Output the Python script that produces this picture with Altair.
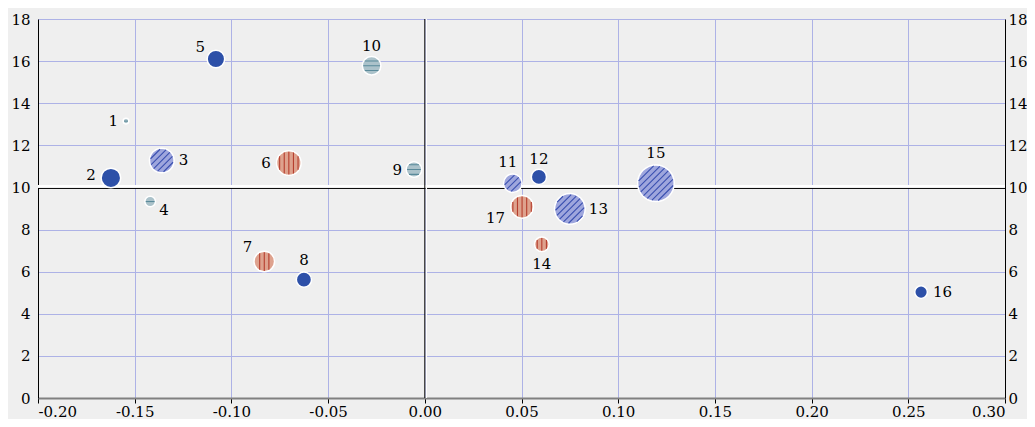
import math
import altair as alt
import pandas as pd

# ---- data ----
labels = ["1", "2", "3", "4", "5", "6", "7", "8", "9", "10",
          "11", "12", "13", "14", "15", "16", "17"]
x_vals = [-0.1545, -0.1623, -0.1360, -0.1420, -0.1080, -0.0703, -0.0830, -0.0625, -0.0056, -0.0275,
          0.0455, 0.0590, 0.0750, 0.0605, 0.1195, 0.2566, 0.0503]
y_vals = [13.15, 10.45, 11.28, 9.33, 16.10, 11.16, 6.48, 5.62, 10.85, 15.78,
          10.20, 10.50, 8.98, 7.30, 10.20, 5.03, 9.08]
weights = [8, 96, 151, 28, 77, 151, 106, 58, 61, 86,
           86, 58, 234, 53, 335, 40, 128]
groups = ["C", "A", "B", "C", "A", "D", "D", "A", "C", "C",
          "B", "A", "B", "D", "B", "A", "D"]

x_cross = 0.0
y_cross = 10.0
x_ticks = [-0.20, -0.15, -0.10, -0.05, 0.0, 0.05, 0.10, 0.15, 0.20, 0.25, 0.30]
y_ticks = [0, 2, 4, 6, 8, 10, 12, 14, 16, 18]

# ---- styles ----
FONT = "DejaVu Serif"
FS = 15
BG = "#efefef"
GRID = "#adb2e6"
group_domain = ["A", "B", "C", "D"]
fill_colors = ["#2d50a8", "#9ea6dd", "#abc2ca", "#dea28e"]
line_colors = ["#2d50a8", "#3a50b0", "#5a8a9a", "#b63e2e"]
pattern_kind = {"B": "diag", "C": "horiz", "D": "vert"}
spacing_px = {"diag": 4.6, "horiz": 4.8, "vert": 4.6}

label_pos = {
    "1": (-8, 0, "right"), "2": (-15, -3, "right"), "3": (17, 0, "left"),
    "4": (9, 8, "left"), "5": (-11, -12, "right"), "6": (-18, 0, "right"),
    "7": (-12, -15, "right"), "8": (0, -20, "center"), "9": (-12, 0, "right"),
    "10": (0, -20, "center"), "11": (-5, -21, "center"), "12": (0, -18, "center"),
    "13": (19, 0, "left"), "14": (0, 20, "center"), "15": (0, -30, "center"),
    "16": (12, 0, "left"), "17": (-17, 11, "right"),
}

wmax = max(weights)
size_scale = alt.Scale(type="linear", domain=[0, wmax], range=[0, 4 * wmax], zero=True)


def pattern_path(kind, w):
    """Chord lines inside a unit circle, with a constant pixel spacing."""
    r = math.sqrt(w)  # circle radius in px for size = 4 * w
    rho = max(0.2, 1 - 0.9 / r)
    s = spacing_px[kind] / r
    parts = []
    n = int(rho / s) + 1
    for k in range(-n, n + 1):
        d = k * s
        if abs(d) >= rho * 0.97:
            continue
        h = math.sqrt(rho * rho - d * d)
        if kind == "horiz":
            p1, p2 = (-h, d), (h, d)
        elif kind == "vert":
            p1, p2 = (d, -h), (d, h)
        else:
            c = 1 / math.sqrt(2)
            nx, ny = c, c
            tx, ty = c, -c
            p1 = (d * nx - h * tx, d * ny - h * ty)
            p2 = (d * nx + h * tx, d * ny + h * ty)
        parts.append("M%.3f,%.3fL%.3f,%.3f" % (p1[0], p1[1], p2[0], p2[1]))
    return "".join(parts) if parts else "M0,0L0,0"


df = pd.DataFrame({"label": labels, "x": x_vals, "y": y_vals, "w": weights, "group": groups})
pat_df = df[df["group"] != "A"].copy()
pat_paths = [pattern_path(pattern_kind[g], w) for g, w in zip(pat_df["group"], pat_df["w"])]

xs = alt.Scale(domain=[x_ticks[0], x_ticks[-1]], nice=False, zero=False)
ys = alt.Scale(domain=[y_ticks[0], y_ticks[-1]], nice=False, zero=False)

x_axis = alt.Axis(
    values=x_ticks, grid=True, gridColor=GRID, gridWidth=1, title=None,
    domainColor="#808080", domainWidth=2, tickColor="#000000", tickSize=5, tickWidth=1,
    labelFont=FONT, labelFontSize=FS, labelColor="#000000", labelPadding=1,
    labelExpr="datum.value < 0 ? '-' + format(-datum.value, '.2f') : format(datum.value, '.2f')",
)
y_axis_left = alt.Axis(
    values=y_ticks, grid=True, gridColor=GRID, gridWidth=1, title=None, orient="left",
    domainColor="#000000", domainWidth=1, ticks=False, labelPadding=8,
    labelFont=FONT, labelFontSize=FS, labelColor="#000000",
)
y_axis_right = alt.Axis(
    values=y_ticks, grid=False, title=None, orient="right",
    domainColor="#000000", domainWidth=1, ticks=False, labelPadding=3,
    labelFont=FONT, labelFontSize=FS, labelColor="#000000",
)


def X(field):
    return alt.X(field, scale=xs, axis=x_axis)


base = alt.Chart(df)

grid_layer = base.mark_point(opacity=0).encode(
    x=X("x:Q"),
    y=alt.Y("y:Q", scale=ys, axis=y_axis_left),
)
right_layer = base.mark_point(opacity=0).encode(
    x=X("x:Q"),
    y=alt.Y("y:Q", scale=ys, axis=y_axis_right),
)

cross_df = pd.DataFrame({"xc": [x_cross], "yc": [y_cross]})
cross = alt.Chart(cross_df)
h_white = cross.mark_rule(color="#ffffff", strokeWidth=3, yOffset=-1).encode(
    y=alt.Y("yc:Q", scale=ys, axis=None))
h_black = cross.mark_rule(color="#000000", strokeWidth=1, yOffset=1).encode(
    y=alt.Y("yc:Q", scale=ys, axis=None))
v_white = cross.mark_rule(color="#ffffff", strokeWidth=1.5, xOffset=1.5).encode(
    x=X("xc:Q"))
v_black = cross.mark_rule(color="#000000", strokeWidth=1).encode(
    x=X("xc:Q"))

bubbles = base.mark_point(shape="circle", filled=True, opacity=1, strokeWidth=1.5,
                          stroke="#ffffff", strokeOpacity=1).encode(
    x=X("x:Q"),
    y=alt.Y("y:Q", scale=ys, axis=None),
    size=alt.Size("w:Q", scale=size_scale, legend=None),
    fill=alt.Fill("group:N", scale=alt.Scale(domain=group_domain, range=fill_colors), legend=None),
)

patterns = alt.Chart(pat_df).mark_point(filled=False, opacity=1, strokeWidth=1.1,
                                        strokeOpacity=1).encode(
    x=X("x:Q"),
    y=alt.Y("y:Q", scale=ys, axis=None),
    size=alt.Size("w:Q", scale=size_scale, legend=None),
    shape=alt.Shape("label:N", scale=alt.Scale(domain=list(pat_df["label"]), range=pat_paths),
                    legend=None),
    stroke=alt.Stroke("group:N", scale=alt.Scale(domain=group_domain, range=line_colors),
                      legend=None),
)

text_layers = []
for lab in labels:
    dx, dy, align = label_pos[lab]
    text_layers.append(
        base.transform_filter(alt.datum.label == lab).mark_text(
            font=FONT, fontSize=FS, color="#000000", dx=dx, dy=dy,
            align=align, baseline="middle",
        ).encode(
            x=X("x:Q"),
            y=alt.Y("y:Q", scale=ys, axis=None),
            text="label:N",
        )
    )

chart = alt.layer(
    grid_layer, right_layer, h_white, h_black, v_white, v_black, bubbles, patterns, *text_layers
).resolve_axis(y="independent").resolve_scale(
    fill="independent", stroke="independent", shape="independent"
).properties(
    width=967, height=379,
    autosize=alt.AutoSizeParams(type="none"),
    padding={"left": 30, "top": 11, "right": 22, "bottom": 21},
    background=BG,
).configure_view(strokeWidth=0)

chart.save("out.html", embed_options={"renderer": "svg", "actions": False})
